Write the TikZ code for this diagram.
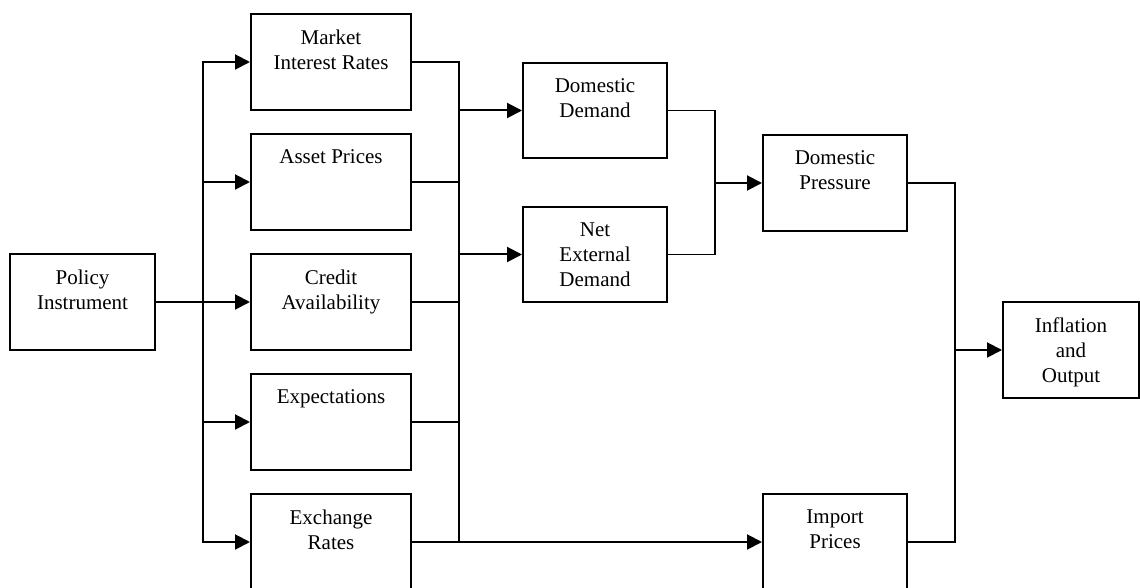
\documentclass[tikz,border=0pt]{standalone}
\usepackage{fontspec}
\setmainfont{Liberation Serif}
\usetikzlibrary{arrows.meta}

\tikzset{
  box/.style={draw, line width=1pt, minimum width=80pt, minimum height=48pt, inner sep=0pt},
  txt/.style={anchor=north, align=center, inner sep=0pt, yshift=-8.3pt,
    font=\fontsize{10.5}{12.5}\selectfont},
  link/.style={line width=0.7pt},
  arr/.style={line width=1pt, -{Triangle[length=7.5pt,width=7.5pt]}}
}

\begin{document}
\begin{tikzpicture}[x=0.5pt, y=-0.5pt]
        \useasboundingbox (0,0) rectangle (1140,588);

        % first column: instrument and channels
        \node [box, minimum width=72.5pt, label={[txt]north:Policy\\Instrument}] (pol) at (82.5,302) {};
        \node [box, label={[txt]north:Market\\Interest Rates}] (mir) at (331,62) {};
        \node [box, label={[txt]north:Asset Prices}] (ap) at (331,182) {};
        \node [box, label={[txt]north:Credit\\Availability}] (ca) at (331,302) {};
        \node [box, label={[txt]north:Expectations}] (exp) at (331,422) {};
        \node [box, label={[txt]north:Exchange\\Rates}] (er) at (331,542) {};

        % demand and prices
        \node [box, minimum width=72pt, minimum height=47.5pt, label={[txt]north:Domestic\\Demand}] (dd) at (595,110.5) {};
        \node [box, minimum width=72pt, minimum height=47.5pt, label={[txt]north:Net\\External\\Demand}] (ned) at (595,254.5) {};
        \node [box, minimum width=72pt, label={[txt]north:Domestic\\Pressure}] (dp) at (835,183) {};
        \node [box, minimum width=72pt, label={[txt]north:Import\\Prices}] (ip) at (835,542) {};
        \node [box, minimum width=68pt, label={[txt]north:Inflation\\and\\Output}] (io) at (1071,350) {};

        \coordinate (splitL) at (203,302);
        \coordinate (joinA) at (459,302);
        \coordinate (joinB) at (715,183);
        \coordinate (joinC) at (955,350);

        % fan out from the instrument
        \draw [arr] (pol.east) -- (ca.west);
        \foreach \b in {mir, ap, exp, er}
            \draw [arr] (splitL) |- (\b.west);

        % channels into demand
        \foreach \b in {mir, ap, ca, exp, er}
            \draw [link] (\b.east) -| (joinA);
        \draw [arr] (joinA |- dd.west) -- (dd.west);
        \draw [arr] (joinA |- ned.west) -- (ned.west);
        \draw [arr] (er.east) -- (ip.west);

        % demand into pressure
        \draw [link] (dd.east) -| (joinB);
        \draw [link] (ned.east) -| (joinB);
        \draw [arr] (joinB) -- (dp.west);

        % pressure and prices into the final box
        \draw [link] (dp.east) -| (joinC);
        \draw [link] (ip.east) -| (joinC);
        \draw [arr] (joinC) -- (io.west);
    \end{tikzpicture}
\end{document}
